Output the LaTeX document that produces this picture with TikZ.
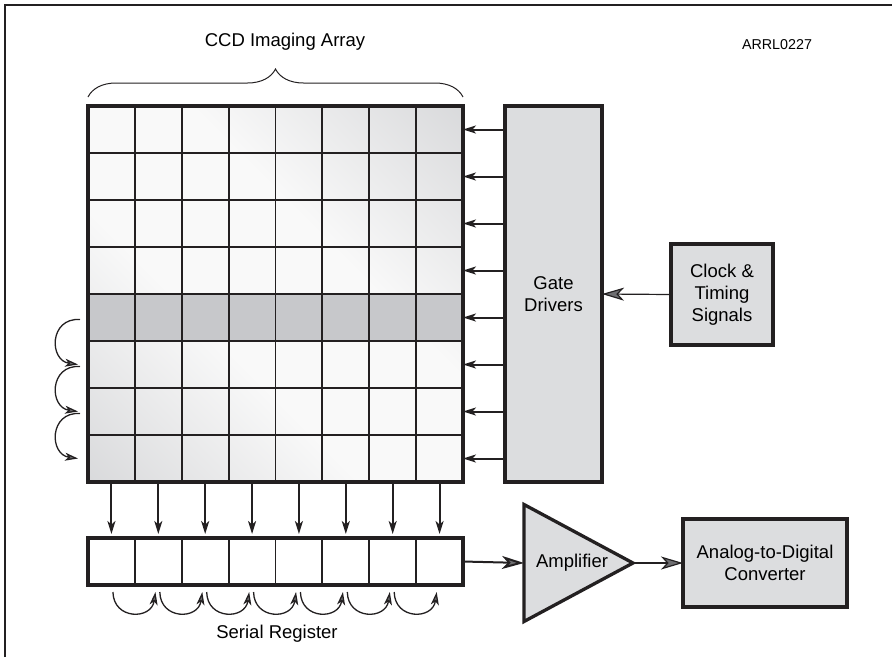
\documentclass[tikz,border=0pt]{standalone}
\usepackage{fontspec}
\setmainfont{Liberation Sans}
\usetikzlibrary{arrows.meta, decorations.pathreplacing, calc, shapes.geometric}
\definecolor{inkgray}{RGB}{35,32,33}
\definecolor{boxgray}{RGB}{220,221,223}
\definecolor{rowgray}{RGB}{199,200,203}
\definecolor{tipgray}{RGB}{110,110,113}
\pgfdeclareverticalshading{ccdshade}{100bp}{color(0bp)=(rowgray); color(40bp)=(white!95!gray); color(60bp)=(white!95!gray); color(100bp)=(rowgray)}
\newcommand{\lblfont}{\fontsize{18.5}{22}\selectfont}

\begin{document}
\begin{tikzpicture}[x=1pt, y=-1pt,
  blk/.style={draw=inkgray, line width=3.3pt, fill=boxgray, inner sep=0pt, outer sep=0pt, align=center, font=\lblfont},
  lbl/.style={font=\lblfont, inner sep=0pt},
  cellline/.style={draw=inkgray, line width=1.8pt},
  feed/.style={draw=inkgray, line width=2pt, -{Stealth[length=13pt, width=8pt, inset=3.5pt, fill=tipgray]}},
  busline/.style={draw=inkgray, line width=2pt, -{Stealth[length=22pt, width=13pt, inset=6pt, fill=tipgray]}},
  wire/.style={draw=inkgray, line width=1.2pt, -{Stealth[length=22pt, width=13pt, inset=6pt, fill=tipgray]}},
  hop/.style={draw=inkgray, line width=1.3pt, -{Stealth[length=13pt, width=8pt, inset=3.5pt, fill=tipgray]}}]
  \useasboundingbox (0,0) rectangle (892,657);
  \draw[line width=2.5pt, draw=inkgray] (5,657) -- (5,5) -- (892,5);

  % imaging array
  \node[shade, shading=ccdshade, shading angle=-45, minimum width=375pt, minimum height=376pt, inner sep=0pt, outer sep=0pt] (ccd) at (275.5,294) {};
  \fill[rowgray] ($(ccd.north west)+(0,188)$) rectangle ++(375,47);
  \foreach \k in {1,...,7} {
    \draw[cellline] ($(ccd.north west)+(\k*46.875,0)$) -- ($(ccd.south west)+(\k*46.875,0)$);
    \draw[cellline] ($(ccd.north west)+(0,\k*47)$) -- ($(ccd.north east)+(0,\k*47)$);
  }
  \draw[draw=inkgray, line width=3.5pt] (ccd.north west) rectangle (ccd.south east);
  \draw[line width=1pt, draw=inkgray, decorate, decoration={brace, amplitude=28pt}] ($(ccd.north west)+(0,-9)$) -- ($(ccd.north east)+(0,-9)$);
  \node[lbl] (title) at (285,42) {CCD Imaging Array};
  \node[font=\fontsize{14.3}{17}\selectfont, inner sep=0pt] (fig) at (777,45) {ARRL0227};

  % drivers and clock
  \node[blk, minimum width=97pt, minimum height=376pt] (gate) at (553.5,294) {Gate\\Drivers};
  \node[blk, minimum width=102pt, minimum height=101pt] (clk) at (722,294.5) {Clock \&\\Timing\\Signals};

  % serial register
  \node[blk, fill=white, minimum width=375pt, minimum height=47pt] (sreg) at (275.5,561.5) {};
  \foreach \k in {1,...,7}
    \draw[cellline] ($(sreg.north west)+(\k*46.875,0)$) -- ($(sreg.south west)+(\k*46.875,0)$);
  \node[lbl] (sregtext) at (277,634) {Serial Register};

  % amplifier and converter
  \node[blk, isosceles triangle, isosceles triangle stretches, minimum width=117pt, minimum height=109pt, anchor=apex] (amp) at (633,563) {};
  \node[lbl] (amptext) at (572,563) {Amplifier};
  \node[blk, minimum width=164pt, minimum height=88pt] (adc) at (765,563) {Analog-to-Digital\\Converter};

  \foreach \k in {1,...,8} {
    \coordinate (row\k) at ($(ccd.north west)+(0,\k*47-23.5)$);
    \coordinate (col\k) at ($(sreg.north west)+(\k*46.875-23.4375,0)$);
  }

  % connectors
  \draw[wire] (clk.west) -- (gate.east);
  \foreach \k in {1,...,8} {
    \draw[feed] (gate.west |- row\k) -- (ccd.east |- row\k);
    \draw[feed, shorten >=4pt] (ccd.south -| col\k) -- (sreg.north -| col\k);
  }
  \draw[busline] (sreg.east) -- (amp.lower side);
  \draw[wire] (amp.apex) -- (adc.west);

  % charge transfer
  \foreach \k in {5,6,7}
    \draw[hop] ($(row\k)+(-8,2)$) .. controls ($(row\k)+(-39,0)$) and ($(row\k)+(-39,43)$) .. ($(row\k)+(-10,47)$);
  \foreach \k in {1,...,7}
    \draw[hop] ($(col\k)+(1.5,54)$) .. controls ($(col\k)+(2,82)$) and ($(col\k)+(40,82)$) .. ($(col\k)+(44,54)$);
\end{tikzpicture}
\end{document}
